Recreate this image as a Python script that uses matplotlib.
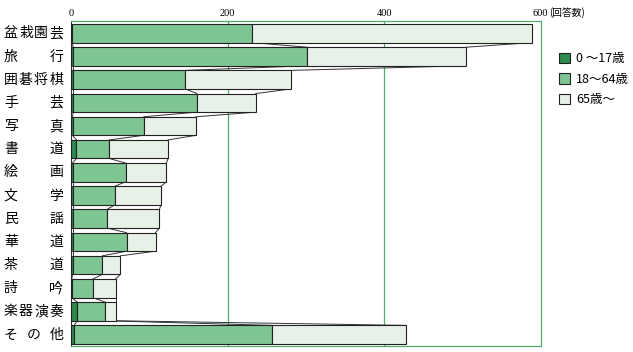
import matplotlib
matplotlib.use("Agg")
import matplotlib.pyplot as plt
import matplotlib.transforms as mtransforms
import numpy as np
from matplotlib.patches import Patch

plt.rcParams['font.family'] = ['Noto Sans CJK JP', 'DejaVu Sans']

categories = ['盆栽園芸', '旅行', '囲碁将棋', '手芸', '写真', '書道', '絵画',
              '文学', '民謡', '華道', '茶道', '詩吟', '楽器演奏', 'その他']
age_0_17 = [1, 3, 3, 3, 2, 7, 2, 2, 2, 2, 2, 1, 8, 4]
age_18_64 = [230, 299, 143, 158, 91, 42, 68, 54, 44, 69, 38, 27, 36, 253]
age_65 = [358, 203, 135, 75, 67, 75, 52, 59, 67, 37, 23, 29, 13, 171]
series_labels = ['0 ～17歳', '18～64歳', '65歳～']
xticks = [0, 200, 400, 600]
xtick_labels = ['0', '200', '400', '600']

colors = ['#2e8a4e', '#7fc493', '#e8f1e8']
green = '#4cae6a'

fig = plt.figure(figsize=(6.33, 3.52), dpi=100)
ax = fig.add_axes([0.1121, 0.017, 0.7420, 0.9233])

n = len(categories)
y = np.arange(n)
h = 0.8
a = np.array(age_0_17)
b = np.array(age_18_64)
c = np.array(age_65)

ax.barh(y, a, height=h, color=colors[0], edgecolor='#222222', linewidth=0.8, zorder=3)
ax.barh(y, b, left=a, height=h, color=colors[1], edgecolor='#222222', linewidth=0.8, zorder=3)
ax.barh(y, c, left=a + b, height=h, color=colors[2], edgecolor='#222222', linewidth=0.8, zorder=3)

# connector lines between consecutive bars
cums = [a, a + b, a + b + c]
for cum in cums:
    for i in range(n - 1):
        ax.plot([cum[i], cum[i + 1]], [i + h / 2, i + 1 - h / 2],
                color='#333333', linewidth=0.7, zorder=2)

ax.set_xlim(0, 600)
ax.set_ylim(13.49, -0.53)
ax.xaxis.tick_top()
ax.set_xticks(xticks)
ax.set_xticklabels(xtick_labels, fontsize=7.5, family=['Liberation Serif'])
ax.tick_params(axis='x', length=0, pad=2)
ax.set_yticks([])
for xv in [200, 400]:
    ax.axvline(xv, color=green, linewidth=0.9, zorder=1)
for s in ['top', 'right', 'bottom']:
    ax.spines[s].set_color(green)
    ax.spines[s].set_linewidth(0.9)
ax.spines['left'].set_color('#333333')
ax.spines['left'].set_linewidth(0.8)

ax.annotate('(回答数)', xy=(1, 1), xycoords='axes fraction', xytext=(6, 2),
            textcoords='offset points', fontsize=7, ha='left', va='bottom')

# justified category labels
x_left_px, x_right_px = 4, 63
char_w = 13.5
blend = mtransforms.blended_transform_factory(fig.transFigure, ax.transData)
for i, cat in enumerate(categories):
    k = len(cat)
    c0 = x_left_px + char_w / 2
    c1 = x_right_px - char_w / 2
    for j, ch in enumerate(cat):
        xp = c0 + (c1 - c0) * j / (k - 1) if k > 1 else (c0 + c1) / 2
        ax.text(xp / 633, i, ch, fontsize=10, ha='center', va='center',
                transform=blend)

handles = [Patch(facecolor=colors[k], edgecolor='#222222', linewidth=0.8) for k in range(3)]
fig.legend(handles, series_labels, loc='upper left', bbox_to_anchor=(0.865, 0.883),
           frameon=False, fontsize=9, handlelength=0.9, handleheight=0.9,
           handletextpad=0.5, labelspacing=0.6)

fig.savefig('out.png', dpi=100)
